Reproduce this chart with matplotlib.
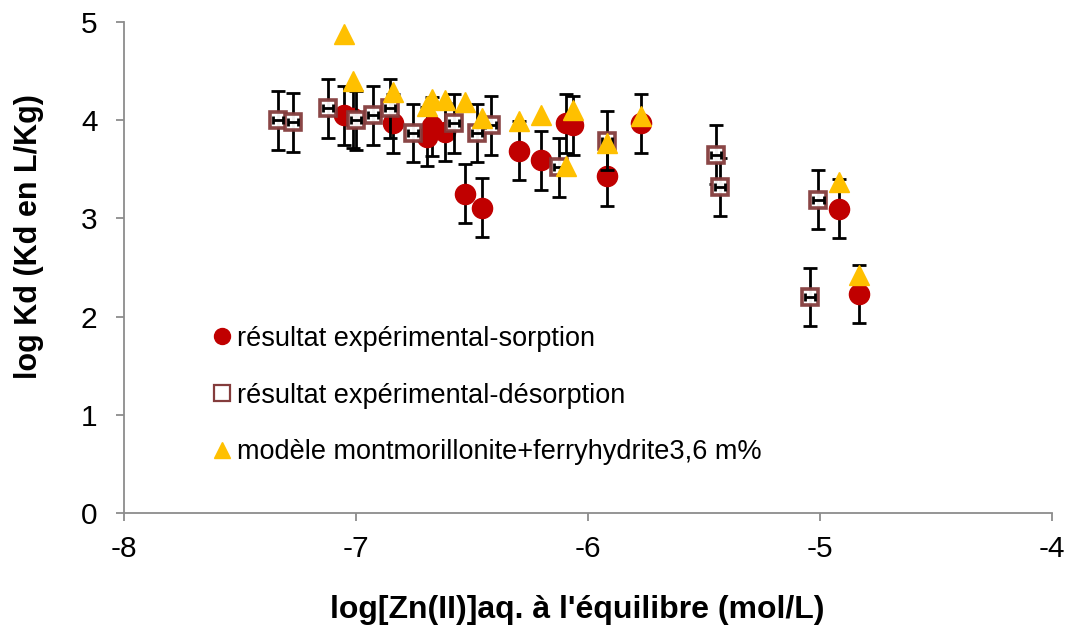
import matplotlib
matplotlib.use('Agg')
import matplotlib.pyplot as plt
from matplotlib.lines import Line2D

plt.rcParams['font.family'] = ['Liberation Sans', 'DejaVu Sans']

# sorption experiments and model, same equilibrium concentrations
x_sorp = [-7.05, -7.012, -6.839, -6.695, -6.674, -6.616, -6.53, -6.458,
          -6.296, -6.204, -6.095, -6.063, -5.917, -5.772, -4.917, -4.832]
y_sorp = [4.05, 4.02, 3.97, 3.83, 3.94, 3.88, 3.25, 3.11,
          3.69, 3.59, 3.97, 3.95, 3.43, 3.97, 3.10, 2.23]
y_model = [4.88, 4.40, 4.29, 4.14, 4.22, 4.21, 4.19, 4.02,
           3.99, 4.05, 3.53, 4.10, 3.77, 4.04, 3.37, 2.42]

# desorption experiments
x_desorp = [-7.337, -7.27, -7.122, -7.0, -6.925, -6.853, -6.753, -6.578,
            -6.48, -6.42, -6.125, -5.917, -5.448, -5.431, -5.007, -5.043]
y_desorp = [4.00, 3.98, 4.12, 4.00, 4.05, 4.12, 3.87, 3.97,
            3.87, 3.95, 3.52, 3.79, 3.65, 3.32, 3.19, 2.20]

yerr = 0.3
xerr_desorp = 0.022

red = '#c00000'
brown = '#843c3c'
orange = '#ffc000'
grey = '#8c8c8c'

fig = plt.figure(figsize=(10.66, 6.25), dpi=100)
ax = fig.add_axes([0.1163, 0.1792, 0.8706, 0.7856])

ax.errorbar(x_sorp, y_sorp, yerr=yerr, fmt='o', color=red, ms=14.5,
            ecolor='black', elinewidth=2, capsize=4.7, capthick=2, zorder=2)
ax.errorbar(x_desorp, y_desorp, yerr=yerr, fmt='none', ecolor='black',
            elinewidth=2, capsize=4.7, capthick=2, zorder=3)
ax.plot(x_desorp, y_desorp, 's', ms=11.8, mfc='white', mec=brown, mew=2.6,
        alpha=0.95, zorder=3)
ax.errorbar(x_desorp, y_desorp, xerr=xerr_desorp, fmt='none', ecolor='black',
            elinewidth=2, capsize=3, capthick=2, zorder=3.5)
ax.plot(x_sorp, y_model, '^', color=orange, ms=15, zorder=4)

ax.set_xlim(-8, -4)
ax.set_ylim(0, 5)
ax.set_xticks([-8, -7, -6, -5, -4])
ax.set_yticks([0, 1, 2, 3, 4, 5])
ax.set_xticklabels(['-8', '-7', '-6', '-5', '-4'])

for side in ['top', 'right']:
    ax.spines[side].set_visible(False)
for side in ['left', 'bottom']:
    ax.spines[side].set_color(grey)
    ax.spines[side].set_linewidth(1.3)
ax.tick_params(direction='out', length=6, width=1.3, color=grey,
               labelsize=21.5)
ax.tick_params(axis='y', pad=13)
ax.tick_params(axis='x', pad=9.5)

ax.set_xlabel("log[Zn(II)]aq. à l'équilibre (mol/L)", fontsize=23,
              fontweight='bold', va='top')
ax.xaxis.set_label_coords(0.4887, -0.167)
ax.set_ylabel('log Kd (Kd en L/Kg)', fontsize=22, fontweight='bold')
ax.yaxis.set_label_coords(-0.0862, 0.562)

handles = [
    Line2D([], [], ls='none', marker='o', color=red, ms=11.5),
    Line2D([], [], ls='none', marker='s', mfc='white', mec=brown, mew=1.6, ms=11),
    Line2D([], [], ls='none', marker='^', color=orange, ms=11),
]
labels = ['résultat expérimental-sorption',
          'résultat expérimental-désorption',
          'modèle montmorillonite+ferryhydrite3,6 m%']
ax.legend(handles, labels, loc='upper left', bbox_to_anchor=(0.097, 0.381),
          frameon=False, fontsize=19.5, handlelength=0.6, handletextpad=0.26,
          labelspacing=1.13, borderpad=0, borderaxespad=0)

fig.savefig('out.png', dpi=100)
